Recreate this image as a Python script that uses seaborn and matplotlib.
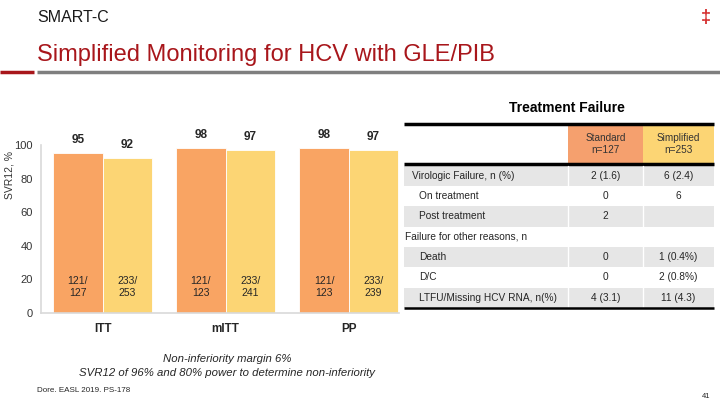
import matplotlib
matplotlib.use("Agg")
import matplotlib.pyplot as plt
import seaborn as sns
import pandas as pd
from matplotlib.patches import Rectangle

# ---------------- data ----------------
analyses = ["ITT", "mITT", "PP"]
arms = ["Standard", "Simplified"]
svr_standard = [95, 98, 98]
svr_simplified = [92, 97, 97]
frac_standard = ["121/\n127", "121/\n123", "121/\n123"]
frac_simplified = ["233/\n253", "233/\n241", "233/\n239"]

table_header = ["Standard\nn=127", "Simplified\nn=253"]
row_labels = ["Virologic Failure, n (%)", "On treatment", "Post treatment",
              "Failure for other reasons, n", "Death", "D/C",
              "LTFU/Missing HCV RNA, n(%)"]
row_indent = [1, 2, 2, 0, 2, 2, 2]
col_standard = ["2 (1.6)", "0", "2", "", "0", "0", "4 (3.1)"]
col_simplified = ["6 (2.4)", "6", "", "", "1 (0.4%)", "2 (0.8%)", "11 (4.3)"]

ORANGE = "#F9A463"
YELLOW = "#FCD574"
DARKRED = "#A8161B"
TXT = "#262626"

sns.set_theme(style="white")
plt.rcParams["font.family"] = ["Liberation Sans", "DejaVu Sans"]

W, H = 720, 405
fig = plt.figure(figsize=(W / 100, H / 100), dpi=100)

# overlay axes in pixel coordinates
ov = fig.add_axes([0, 0, 1, 1])
ov.set_xlim(0, W)
ov.set_ylim(H, 0)
ov.axis("off")

# header
ov.text(37, 18, "SMART-C", fontsize=11.5, color="#1a1a1a", va="center", ha="left")
ov.text(706, 17, "\u2021", fontsize=13, color="#D42A2A", va="center", ha="center", fontweight="bold")
ov.text(37, 55, "Simplified Monitoring for HCV with GLE/PIB", fontsize=17,
        color=DARKRED, va="center", ha="left")
ov.plot([0, 34], [72, 72], color=DARKRED, lw=2.5, solid_capstyle="butt")
ov.plot([37, 720], [72, 72], color="#7F7F7F", lw=2.5, solid_capstyle="butt")

# ---------------- bar chart ----------------
df = pd.DataFrame({
    "analysis": analyses * 2,
    "arm": [arms[0]] * 3 + [arms[1]] * 3,
    "svr": svr_standard + svr_simplified,
})

x0, x1 = 41, 399
y0, y100 = 313, 145
ax = fig.add_axes([x0 / W, (H - y0) / H, (x1 - x0) / W, (y0 - y100) / H])
sns.barplot(data=df, x="analysis", y="svr", hue="arm", hue_order=arms,
            palette=[ORANGE, YELLOW], width=0.8, saturation=1,
            edgecolor="white", linewidth=0.6, ax=ax, legend=False)
ax.set_ylim(0, 100)
ax.set_xlim(-0.5, 2.41)
ax.set_yticks([0, 20, 40, 60, 80, 100])
ax.tick_params(axis="y", length=0, pad=6, labelsize=8, labelcolor="#333333")
ax.tick_params(axis="x", length=0, pad=7)
for lab in ax.get_xticklabels():
    lab.set_fontweight("bold")
    lab.set_fontsize(8.5)
    lab.set_color(TXT)
ax.set_xlabel("")
ax.set_ylabel("SVR12, %", fontsize=7.5, color="#333333")
ax.yaxis.set_label_coords(-0.074, 0.82)
for s in ["top", "right"]:
    ax.spines[s].set_visible(False)
for s in ["left", "bottom"]:
    ax.spines[s].set_color("#D9D9D9")
    ax.spines[s].set_linewidth(1.2)

fracs = [frac_standard, frac_simplified]
for ci, cont in enumerate(ax.containers):
    ax.bar_label(cont, fmt="%d", padding=5, fontsize=8.5, fontweight="bold", color=TXT)
    for bar, fr in zip(cont, fracs[ci]):
        ax.text(bar.get_x() + bar.get_width() / 2, 15.5, fr, ha="center", va="center",
                fontsize=7.5, color=TXT, linespacing=1.15)

# ---------------- table ----------------
tl, tr = 404, 714
c1, c2 = 568, 643
ov.text(567, 108, "Treatment Failure", fontsize=10, fontweight="bold",
        color="black", ha="center", va="center")
ov.add_patch(Rectangle((c1, 124), c2 - c1, 39, color="#F5A06E", lw=0))
ov.add_patch(Rectangle((c2, 124), tr - c2, 39, color=YELLOW, lw=0))
ov.text((c1 + c2) / 2, 144, table_header[0], fontsize=7.2, color="#333333", ha="center", va="center")
ov.text((c2 + tr) / 2, 144, table_header[1], fontsize=7.2, color="#333333", ha="center", va="center")
ov.plot([tl, tr], [124, 124], color="black", lw=2.5, solid_capstyle="butt")
ov.plot([tl, tr], [164, 164], color="black", lw=2.5, solid_capstyle="butt")

row_top = 165.5
row_h = (308 - row_top) / len(row_labels)
for i, (lab, ind, a, b) in enumerate(zip(row_labels, row_indent, col_standard, col_simplified)):
    ytop = row_top + i * row_h
    yc = ytop + row_h / 2
    if i % 2 == 0:
        ov.add_patch(Rectangle((tl, ytop), tr - tl, row_h, color="#E6E6E6", lw=0))
    xoff = {0: 1, 1: 8, 2: 15}[ind]
    ov.text(tl + xoff, yc, lab, fontsize=7.3, color=TXT, ha="left", va="center")
    ov.text((c1 + c2) / 2, yc, a, fontsize=7.3, color=TXT, ha="center", va="center")
    ov.text((c2 + tr) / 2, yc, b, fontsize=7.3, color=TXT, ha="center", va="center")
ov.plot([c1, c1], [row_top, 308], color="white", lw=1)
ov.plot([c2, c2], [row_top, 308], color="white", lw=1)
ov.plot([tl, tr], [308, 308], color="black", lw=1.8, solid_capstyle="butt")

# ---------------- footnotes ----------------
ov.text(227, 359, "Non-inferiority margin 6%", fontsize=8.2, style="italic",
        color=TXT, ha="center", va="center")
ov.text(227, 373, "SVR12 of 96% and 80% power to determine non-inferiority", fontsize=8.2,
        style="italic", color=TXT, ha="center", va="center")
ov.text(37, 390, "Dore. EASL 2019. PS-178", fontsize=5.8, color=TXT, ha="left", va="center")
ov.text(706, 396, "41", fontsize=5.5, color=TXT, ha="center", va="center")

fig.savefig("out.png", dpi=100)
